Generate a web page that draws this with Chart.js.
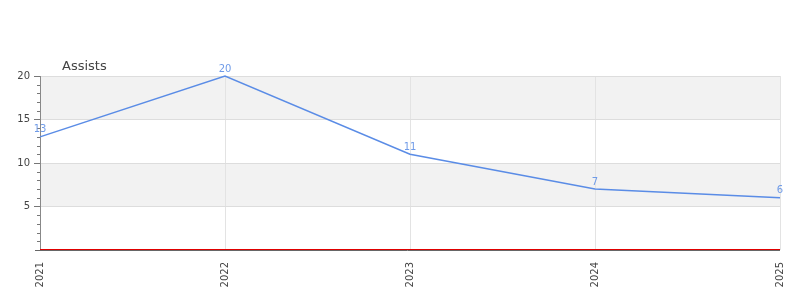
<!DOCTYPE html>
<html>
<head>
<meta charset="utf-8">
<script src="https://cdn.jsdelivr.net/npm/chart.js@4"></script>
<style>
html,body{margin:0;padding:0;background:#fff;}
#wrap{width:800px;height:300px;position:relative;}
</style>
</head>
<body>
<div id="wrap"><canvas id="c" width="800" height="300"></canvas></div>
<script>
const categories = ['2021', '2022', '2023', '2024', '2025'];
const assists = [13, 20, 11, 7, 6];
const seriesName = 'Assists';
const yMin = 0, yMax = 20, yMajor = 5, yMinor = 1;
const bands = [[5, 10], [15, 20]];

const FONT = "'DejaVu Sans', sans-serif";

const decor = {
  id: 'decor',
  beforeDraw(chart) {
    const { ctx, chartArea: a, scales: { y } } = chart;
    ctx.save();
    ctx.fillStyle = '#f2f2f2';
    bands.forEach(([lo, hi]) => {
      const t = y.getPixelForValue(hi), b = y.getPixelForValue(lo);
      ctx.fillRect(a.left, t, a.right - a.left, b - t);
    });
    ctx.restore();
  },
  afterDatasetsDraw(chart) {
    const { ctx, chartArea: a, scales: { y } } = chart;
    ctx.save();
    ctx.lineWidth = 1;
    ctx.strokeStyle = '#777';
    for (let v = yMin; v <= yMax; v += yMinor) {
      if (v % yMajor === 0) continue;
      const py = Math.round(y.getPixelForValue(v)) + 0.5;
      ctx.beginPath();
      ctx.moveTo(a.left - 3, py);
      ctx.lineTo(a.left, py);
      ctx.stroke();
    }
    const p0 = Math.round(y.getPixelForValue(0));
    ctx.strokeStyle = '#e00000';
    ctx.beginPath();
    ctx.moveTo(a.left, p0 - 0.5);
    ctx.lineTo(a.right, p0 - 0.5);
    ctx.stroke();
    ctx.strokeStyle = '#666';
    ctx.beginPath();
    ctx.moveTo(a.left - 5, p0 + 0.5);
    ctx.lineTo(a.right, p0 + 0.5);
    ctx.stroke();
    ctx.restore();
  },
  afterDraw(chart) {
    const { ctx, chartArea: a } = chart;
    ctx.save();
    ctx.font = '13px ' + FONT;
    ctx.fillStyle = '#444';
    ctx.textAlign = 'left';
    ctx.textBaseline = 'middle';
    ctx.fillText(seriesName, a.left + 22, a.top - 9);
    const meta = chart.getDatasetMeta(0);
    ctx.font = '10px ' + FONT;
    ctx.fillStyle = '#6f9be8';
    ctx.textAlign = 'center';
    ctx.textBaseline = 'bottom';
    meta.data.forEach((pt, i) => {
      ctx.fillText(String(assists[i]), pt.x, pt.y - 2);
    });
    ctx.restore();
  }
};

new Chart(document.getElementById('c'), {
  type: 'line',
  data: {
    labels: categories,
    datasets: [{
      label: seriesName,
      data: assists,
      borderColor: '#5a8ce6',
      borderWidth: 1.5,
      pointRadius: 0,
      fill: false,
      tension: 0,
      clip: false
    }]
  },
  options: {
    responsive: false,
    animation: false,
    devicePixelRatio: 1,
    layout: { padding: { top: 76, right: 20, left: 0, bottom: 0 } },
    plugins: {
      legend: { display: false },
      title: { display: false },
      tooltip: { enabled: false }
    },
    scales: {
      x: {
        type: 'category',
        offset: false,
        grid: { color: '#e3e3e3', drawTicks: false, lineWidth: 1 },
        border: { display: false },
        ticks: {
          maxRotation: 90, minRotation: 90,
          padding: 12,
          font: { family: FONT, size: 10 },
          color: '#444'
        },
        afterFit(s) { s.height = 50; s.paddingLeft = 0; s.paddingRight = 0; }
      },
      y: {
        min: yMin, max: yMax,
        grid: {
          color: c => (c.tick && c.tick.value % yMajor === 0 && c.tick.value !== 0) ? '#dddddd' : 'transparent',
          tickColor: c => (c.tick && c.tick.value % yMajor === 0 && c.tick.value !== 0) ? '#777' : 'transparent',
          tickLength: 6,
          lineWidth: 1
        },
        border: { color: '#888', width: 1 },
        ticks: {
          stepSize: yMinor,
          autoSkip: false,
          padding: 4,
          font: { family: FONT, size: 10 },
          color: '#444',
          callback: v => (v % yMajor === 0 && v !== 0) ? String(v) : ''
        },
        afterFit(s) { s.width = 40; s.paddingTop = 0; s.paddingBottom = 0; }
      }
    }
  },
  plugins: [decor]
});
</script>
</body>
</html>
